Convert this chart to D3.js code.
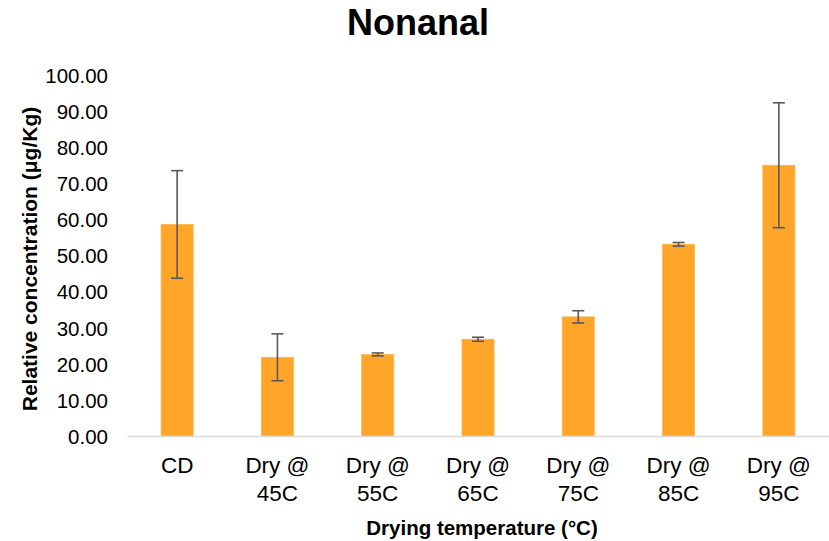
<!DOCTYPE html>
<html>
<head>
<meta charset="utf-8">
<script src="https://cdn.jsdelivr.net/npm/d3@7"></script>
<style>
  body { margin: 0; background: #fff; }
  text { font-family: "Liberation Sans", Arial, sans-serif; fill: #000; }
</style>
</head>
<body>
<svg id="chart" width="829" height="541"></svg>
<script>
const categories = [["CD"], ["Dry @", "45C"], ["Dry @", "55C"], ["Dry @", "65C"], ["Dry @", "75C"], ["Dry @", "85C"], ["Dry @", "95C"]];
const values = [58.6, 21.8, 22.6, 26.8, 33.0, 53.1, 75.0];
const errors = [14.9, 6.5, 0.4, 0.55, 1.7, 0.5, 17.3];
const yTicks = [0, 10, 20, 30, 40, 50, 60, 70, 80, 90, 100];
const title = "Nonanal";
const xTitle = "Drying temperature (°C)";
const yTitle = "Relative concentration (μg/Kg)";

(function () {
const svg = d3.select("#chart");
const mLeft = 127, mRight = 829, mTop = 75, mBottom = 436;
const keys = categories.map((c, i) => i);

const x = d3.scaleBand().domain(keys).range([mLeft, mRight]).paddingInner(0.68).paddingOuter(0.34);
const y = d3.scaleLinear().domain([0, 100]).range([mBottom, mTop]);

// title
svg.append("text").attr("x", 418).attr("y", 35).attr("text-anchor", "middle")
  .style("font-size", "36px").style("font-weight", "bold").text(title);

// y axis labels
const yAxis = d3.axisLeft(y).tickValues(yTicks).tickFormat(d3.format(".2f")).tickSize(0).tickPadding(0);
const yg = svg.append("g").attr("transform", `translate(108,0)`).call(yAxis);
yg.select(".domain").remove();
yg.selectAll("text").style("font-size", "20.5px").style("font-family", "Liberation Sans, Arial, sans-serif").attr("fill", "#000").attr("dy", "0.36em");

// bars
svg.append("g").selectAll("rect").data(values).join("rect")
  .attr("x", (d, i) => x(i)).attr("width", x.bandwidth())
  .attr("y", d => y(d)).attr("height", d => y(0) - y(d))
  .attr("fill", "#FFA529").attr("stroke", "#FFB54D").attr("stroke-width", 0.8);

// x axis line
const xAxis = d3.axisBottom(x).tickSize(0).tickFormat("");
const xg = svg.append("g").attr("transform", `translate(0,${mBottom})`).call(xAxis);
xg.select(".domain").attr("stroke", "#d9d9d9").attr("stroke-width", 1.5);

// x labels
const lab = svg.append("g").selectAll("text").data(categories).join("text")
  .attr("text-anchor", "middle").style("font-size", "22.5px")
  .attr("x", (d, i) => x(i) + x.bandwidth() / 2).attr("y", 473);
lab.selectAll("tspan").data(d => d).join("tspan")
  .attr("x", function() { return d3.select(this.parentNode).attr("x"); })
  .attr("dy", (d, j) => j === 0 ? 0 : 28).text(d => d);

// error bars
const eg = svg.append("g").attr("stroke", "#595959").attr("stroke-width", 1.6);
values.forEach((v, i) => {
  const cx = x(i) + x.bandwidth() / 2;
  const hi = y(v + errors[i]), lo = y(v - errors[i]);
  eg.append("line").attr("x1", cx).attr("x2", cx).attr("y1", hi).attr("y2", lo);
  eg.append("line").attr("x1", cx - 6).attr("x2", cx + 6).attr("y1", hi).attr("y2", hi);
  eg.append("line").attr("x1", cx - 6).attr("x2", cx + 6).attr("y1", lo).attr("y2", lo);
});

// axis titles
svg.append("text").attr("x", 482).attr("y", 535).attr("text-anchor", "middle")
  .style("font-size", "20.5px").style("font-weight", "bold").text(xTitle);
svg.append("text").attr("transform", "translate(37,259) rotate(-90)").attr("text-anchor", "middle")
  .style("font-size", "21px").style("font-weight", "bold").text(yTitle);
})();
</script>
</body>
</html>
